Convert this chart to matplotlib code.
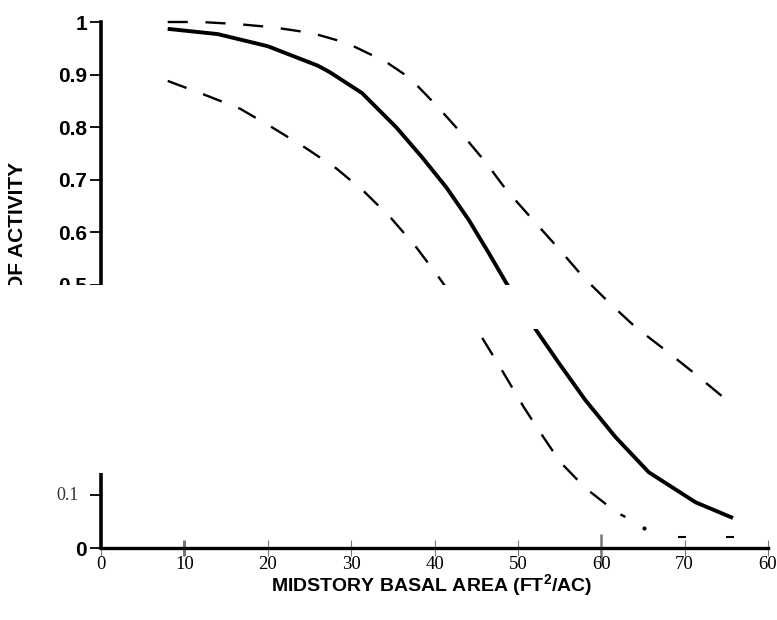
import matplotlib
matplotlib.use("Agg")
import matplotlib.pyplot as plt
from matplotlib.patches import Rectangle

# values
x_mid = [8, 14, 20, 26, 27.4, 31.3, 35.4, 38.5, 41.4, 44.1, 46.5, 48.6,
         52.2, 54.9, 58.1, 61.7, 65.7, 71.3, 75.8]
y_mid = [0.987, 0.977, 0.954, 0.917, 0.905, 0.865, 0.800, 0.743, 0.686, 0.624,
         0.561, 0.504, 0.414, 0.352, 0.281, 0.211, 0.144, 0.087, 0.057]

x_upper = [8, 12, 16.4, 20.6, 25.3, 29.5, 34.2, 37.0, 40.2, 43.2, 46.2, 48.6,
           51.9, 54.9, 57.9, 61.3, 64.1, 67.7, 71.1, 74.6, 75.8]
y_upper = [1.0, 1.0, 0.996, 0.99, 0.979, 0.96, 0.924, 0.894, 0.842, 0.789, 0.732,
           0.681, 0.622, 0.569, 0.514, 0.461, 0.42, 0.376, 0.333, 0.287, 0.276]

x_lower = [8, 12.7, 16.7, 20.6, 24.5, 28.2, 31.6, 34.8, 37.8, 40.5, 45.7, 47.9,
           50.7, 52.5, 55.1, 58.1, 61.8, 62.9]
y_lower = [0.888, 0.860, 0.835, 0.799, 0.761, 0.722, 0.677, 0.627, 0.572, 0.515,
           0.40, 0.343, 0.268, 0.224, 0.163, 0.114, 0.068, 0.059]

# faint bits of the lower band near the axis
x_tail = [69.7, 75.5]
y_tail = [0.021, 0.021]
x_dot = [65.1]
y_dot = [0.038]

x_ticks = [0, 10, 20, 30, 40, 50, 60, 70, 80]
x_labels = ["0", "10", "20", "30", "40", "50", "60", "70", "60"]
y_ticks = [0, 0.1, 0.2, 0.3, 0.4, 0.5, 0.6, 0.7, 0.8, 0.9, 1.0]
y_labels = ["0", "", "0.2", "0.3", "0.4", "0.5", "0.6", "0.7", "0.8", "0.9", "1"]

plt.rcParams["mathtext.fontset"] = "custom"
plt.rcParams["mathtext.rm"] = "Liberation Sans"
plt.rcParams["mathtext.bf"] = "Liberation Sans:bold"

W, H = 777, 620
fig = plt.figure(figsize=(W / 100, H / 100), dpi=100)
ax = fig.add_axes([101 / W, 1 - 548 / H, 667 / W, 526 / H])

ax.plot(x_mid, y_mid, color="black", lw=2.8, solid_capstyle="butt", clip_on=False)
ax.plot(x_upper, y_upper, color="black", lw=1.7, dashes=(8.5, 7.5), clip_on=False)
ax.plot(x_lower, y_lower, color="black", lw=1.7, dashes=(8.5, 7.5), clip_on=False)
ax.plot(x_tail, y_tail, ls="none", marker="_", ms=6, mew=1.5, color="black")
ax.plot(x_dot, y_dot, ls="none", marker="o", ms=2, color="black")

ax.set_xlim(0, 80)
ax.set_ylim(0, 1.0)

for s in ["top", "right"]:
    ax.spines[s].set_visible(False)
ax.spines["left"].set_linewidth(2.6)
ax.spines["bottom"].set_linewidth(2.4)

ax.set_xticks(x_ticks)
ax.set_xticklabels(x_labels, family="Liberation Serif", fontsize=13.5)
ax.set_yticks(y_ticks)
ax.set_yticklabels(y_labels, family="Liberation Sans", fontsize=15, fontweight="bold")
ax.tick_params(axis="x", direction="inout", length=12, width=0.8, color="#777777", pad=0)
ax.tick_params(axis="y", direction="out", length=8, width=1.3, pad=2)

# the 0.1 label is set in a different (serif) type on the original
ax.annotate("0.1", xy=(0, 0.1), xytext=(-16, 0), textcoords="offset points",
            ha="right", va="center", family="Liberation Serif", fontsize=13,
            color="#333333")

# the 10 and 60 ticks came out heavier on the scan
xt = ax.xaxis.get_major_ticks()
xt[1].tick1line.set_markeredgewidth(2.2)
xt[1].tick1line.set_color("black")
xt[6].tick1line.set_markeredgewidth(1.8)
xt[6].tick1line.set_color("black")
xt[6].tick1line.set_markersize(20)

fig.text(432 / W, 1 - 586 / H, "MIDSTORY BASAL AREA (FT$^{\\mathbf{2}}$/AC)",
         family="Liberation Sans", fontweight="bold", fontsize=14,
         ha="center", va="center")
fig.text(18 / W, 1 - 226 / H, "OF ACTIVITY", family="Liberation Sans",
         fontweight="bold", fontsize=15, rotation=90, ha="center", va="center")

# blank strips where the scan lost the image
fig.add_artist(Rectangle((0, 1 - 329 / H), 553 / W, 44 / H, transform=fig.transFigure,
                         facecolor="white", edgecolor="none", zorder=10))
fig.add_artist(Rectangle((0, 1 - 473 / H), 112 / W, 188 / H, transform=fig.transFigure,
                         facecolor="white", edgecolor="none", zorder=10))

fig.savefig("out.png", dpi=100)
